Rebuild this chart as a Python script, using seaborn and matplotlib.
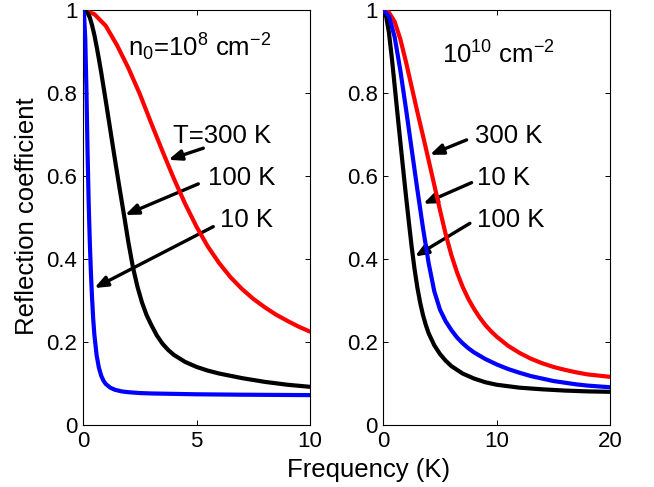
import matplotlib
matplotlib.use("Agg")
import matplotlib.pyplot as plt
import pandas as pd
import seaborn as sns

# ---- n0 = 1e8 cm^-2 : reflection coefficient vs frequency (K) ----
lo_freq_300 = [0, 0.5, 1.0, 1.5, 2.0, 2.5, 3.0, 3.5, 4.0, 4.5, 5.0, 5.5, 6.0, 6.5, 7.0, 7.5, 8.0, 8.5,
               9.0, 9.5, 10]
lo_refl_300 = [1.0, 0.99, 0.962, 0.915, 0.86, 0.798, 0.728, 0.66, 0.594, 0.533, 0.478, 0.43, 0.39,
               0.356, 0.328, 0.304, 0.284, 0.266, 0.251, 0.237, 0.225]

lo_freq_100 = [0, 0.1, 0.2, 0.3, 0.4, 0.5, 0.6, 0.7, 0.8, 0.9, 1.0, 1.2, 1.4, 1.6, 1.8, 2.0, 2.2, 2.4,
               2.6, 2.8, 3.0, 3.25, 3.5, 3.75, 4.0, 4.5, 5.0, 5.5, 6.0, 7.0, 8.0, 9.0, 10]
lo_refl_100 = [1.0, 0.998, 0.993, 0.982, 0.963, 0.94, 0.912, 0.882, 0.85, 0.816, 0.782, 0.712, 0.642,
               0.574, 0.508, 0.44, 0.38, 0.333, 0.295, 0.265, 0.242, 0.216, 0.196, 0.181, 0.169,
               0.152, 0.14, 0.131, 0.124, 0.113, 0.104, 0.097, 0.092]

lo_freq_10 = [0, 0.05, 0.1, 0.15, 0.2, 0.25, 0.3, 0.35, 0.4, 0.45, 0.5, 0.6, 0.7, 0.8, 0.9, 1.0, 1.2,
              1.4, 1.7, 2.0, 2.5, 3.0, 4.0, 5.0, 7.0, 10]
lo_refl_10 = [1.0, 0.985, 0.93, 0.81, 0.66, 0.535, 0.44, 0.365, 0.305, 0.255, 0.218, 0.168, 0.138,
              0.119, 0.107, 0.099, 0.09, 0.085, 0.081, 0.079, 0.077, 0.076, 0.075, 0.074, 0.073, 0.072]

# ---- n0 = 1e10 cm^-2 ----
hi_freq_300 = [0, 0.5, 1.0, 1.5, 2.0, 2.5, 3.0, 3.5, 4.0, 4.5, 5.0, 5.5, 6.0, 6.5, 7.0, 7.5, 8.0, 8.5,
               9.0, 9.5, 10, 11, 12, 13, 14, 15, 16, 17, 18, 19, 20]
hi_refl_300 = [1.0, 0.994, 0.972, 0.93, 0.875, 0.815, 0.755, 0.697, 0.638, 0.578, 0.518, 0.46, 0.41,
               0.368, 0.333, 0.304, 0.28, 0.259, 0.241, 0.226, 0.213, 0.191, 0.174, 0.16, 0.149,
               0.14, 0.133, 0.127, 0.122, 0.119, 0.116]

hi_freq_10 = [0, 0.5, 1.0, 1.5, 2.0, 2.5, 3.0, 3.5, 4.0, 4.5, 5.0, 5.5, 6.0, 6.5, 7.0, 7.5, 8.0, 9.0,
              10, 11, 12, 13, 14, 15, 16, 17, 18, 19, 20]
hi_refl_10 = [1.0, 0.985, 0.935, 0.855, 0.762, 0.665, 0.568, 0.475, 0.39, 0.322, 0.278, 0.25, 0.229,
              0.211, 0.197, 0.185, 0.175, 0.159, 0.146, 0.135, 0.126, 0.118, 0.112, 0.106, 0.102,
              0.098, 0.095, 0.093, 0.091]

hi_freq_100 = [0, 0.25, 0.5, 0.75, 1.0, 1.25, 1.5, 1.75, 2.0, 2.25, 2.5, 2.75, 3.0, 3.25, 3.5, 3.75,
               4.0, 4.5, 5.0, 5.5, 6.0, 7.0, 8.0, 9.0, 10, 12, 14, 16, 18, 20]
hi_refl_100 = [1.0, 0.985, 0.945, 0.885, 0.818, 0.75, 0.683, 0.617, 0.552, 0.49, 0.43, 0.377, 0.332,
               0.295, 0.265, 0.241, 0.221, 0.192, 0.171, 0.155, 0.142, 0.124, 0.112, 0.103, 0.097,
               0.09, 0.086, 0.083, 0.081, 0.08]

temps = ["300 K", "100 K", "10 K"]
colors = {"300 K": "#ff0000", "100 K": "#000000", "10 K": "#0000ff"}

x_ticks_lo = [0, 5, 10]
x_ticks_hi = [0, 10, 20]
y_ticks = [0, 0.2, 0.4, 0.6, 0.8, 1]
y_ticklabels = ["0", "0.2", "0.4", "0.6", "0.8", "1"]


def frame(freqs, refls):
    parts = []
    for t, f, r in zip(temps, freqs, refls):
        parts.append(pd.DataFrame({"freq": f, "refl": r, "T": t}))
    return pd.concat(parts, ignore_index=True)


df_lo = frame([lo_freq_300, lo_freq_100, lo_freq_10], [lo_refl_300, lo_refl_100, lo_refl_10])
df_hi = frame([hi_freq_300, hi_freq_100, hi_freq_10], [hi_refl_300, hi_refl_100, hi_refl_10])

sns.set_style("ticks", {
    "xtick.direction": "in", "ytick.direction": "in",
    "axes.edgecolor": "black", "text.color": "black",
    "xtick.color": "black", "ytick.color": "black", "axes.labelcolor": "black",
})
plt.rcParams["font.family"] = ["Liberation Sans", "DejaVu Sans"]
plt.rcParams["mathtext.fontset"] = "custom"
plt.rcParams["mathtext.rm"] = "Liberation Sans"
plt.rcParams["mathtext.it"] = "Liberation Sans:italic"
plt.rcParams["mathtext.default"] = "regular"
plt.rcParams["text.color"] = "black"

fig = plt.figure(figsize=(6.54, 4.87), dpi=100)
ax_lo = fig.add_axes([83 / 654, 62 / 487, 227 / 654, 415 / 487])
ax_hi = fig.add_axes([383.3 / 654, 62 / 487, 226.7 / 654, 415 / 487])

for ax, df, xmax, xt in [(ax_lo, df_lo, 10, x_ticks_lo), (ax_hi, df_hi, 20, x_ticks_hi)]:
    sns.lineplot(data=df, x="freq", y="refl", hue="T", palette=colors, hue_order=temps,
                 estimator=None, sort=False, linewidth=3, legend=False, ax=ax, zorder=3)
    ax.set_xlim(0, xmax)
    ax.set_ylim(0, 1)
    ax.set_xticks(xt)
    ax.set_xticklabels([str(v) for v in xt])
    ax.set_yticks(y_ticks)
    ax.set_yticklabels(y_ticklabels)
    ax.set_xlabel("")
    ax.set_ylabel("")
    ax.tick_params(direction="in", top=True, right=True, length=3.6, width=0.7,
                   labelsize=16, pad=4, colors="black")
    for s in ax.spines.values():
        s.set_linewidth(0.8)
        s.set_color("black")

arrow_kw = dict(arrowstyle="-|>,head_length=0.55,head_width=0.22", color="black", lw=2.4,
                shrinkA=0, shrinkB=0, mutation_scale=14)
txt_kw = dict(fontsize=18.5, ha="left", va="baseline", color="black")

# labels and pointers, low-density panel
ax_lo.annotate("", xy=(3.76, 0.639), xytext=(5.30, 0.667), arrowprops=arrow_kw, zorder=2)
ax_lo.annotate("", xy=(1.85, 0.506), xytext=(5.08, 0.581), arrowprops=arrow_kw, zorder=2)
ax_lo.annotate("", xy=(0.50, 0.330), xytext=(5.74, 0.478), arrowprops=arrow_kw, zorder=2)
ax_lo.text(3.96, 0.68, "T=300 K", **txt_kw)
ax_lo.text(5.52, 0.578, "100 K", **txt_kw)
ax_lo.text(6.04, 0.478, "10 K", **txt_kw)
ax_lo.text(2.0, 0.887, r"n$_0$=10$^8$ cm$^{-2}$", **txt_kw)

# labels and pointers, high-density panel
ax_hi.annotate("", xy=(4.11, 0.651), xytext=(7.35, 0.687), arrowprops=arrow_kw, zorder=2)
ax_hi.annotate("", xy=(3.52, 0.533), xytext=(7.79, 0.584), arrowprops=arrow_kw, zorder=2)
ax_hi.annotate("", xy=(2.79, 0.406), xytext=(7.64, 0.486), arrowprops=arrow_kw, zorder=2)
ax_hi.text(8.08, 0.679, "300 K", **txt_kw)
ax_hi.text(8.23, 0.578, "10 K", **txt_kw)
ax_hi.text(8.23, 0.478, "100 K", **txt_kw)
ax_hi.text(5.14, 0.872, r"10$^{10}$ cm$^{-2}$", **txt_kw)

fig.text(369 / 654, 10 / 487, "Frequency (K)", fontsize=18.5, ha="center", va="baseline",
         color="black")
fig.text(27 / 654, (487 - 216) / 487, "Reflection coefficient", fontsize=18.5, rotation=90,
         ha="center", va="center", color="black")

fig.savefig("out.png", dpi=100, facecolor="white")
